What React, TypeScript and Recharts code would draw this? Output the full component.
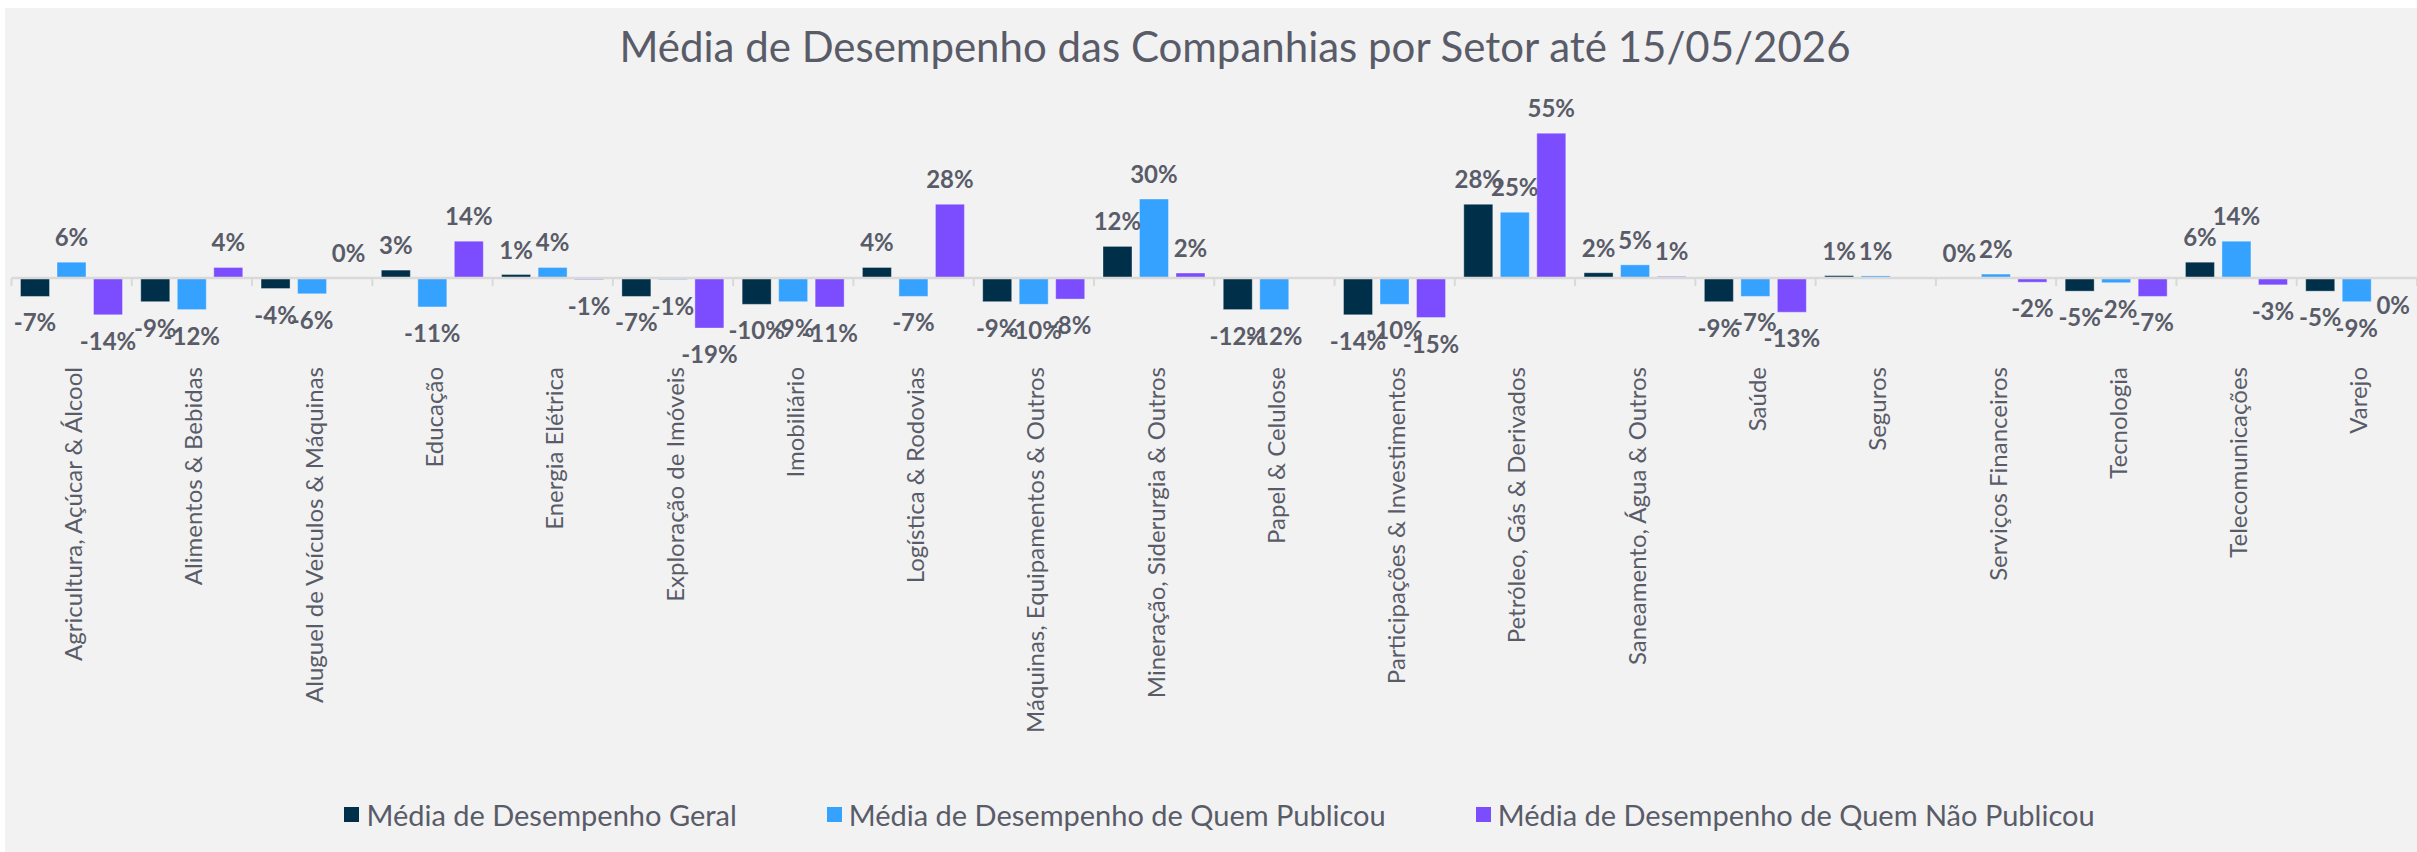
import React from "react";
import { BarChart, Bar, XAxis, YAxis, ReferenceLine, Legend, LabelList } from "recharts";

const categories = [
  "Agricultura, Açúcar & Álcool",
  "Alimentos & Bebidas",
  "Aluguel de Veículos & Máquinas",
  "Educação",
  "Energia Elétrica",
  "Exploração de Imóveis",
  "Imobiliário",
  "Logística & Rodovias",
  "Máquinas, Equipamentos & Outros",
  "Mineração, Siderurgia & Outros",
  "Papel & Celulose",
  "Participações & Investimentos",
  "Petróleo, Gás & Derivados",
  "Saneamento, Água & Outros",
  "Saúde",
  "Seguros",
  "Serviços Financeiros",
  "Tecnologia",
  "Telecomunicações",
  "Varejo",
];

// médias em %
const geral = [-7, -9, -4, 3, 1.3, -7, -10, 4, -9, 12, -12, -14, 28, 2, -9, 0.9, 0.1, -5, 6, -5];
const publicou = [6, -12, -6, -11, 4, -0.6, -9, -7, -10, 30, -12, -10, 25, 5, -7, 0.8, 1.5, -1.8, 14, -9];
const naoPublicou = [-14, 4, 0.1, 14, -0.6, -19, -11, 28, -8, 1.9, null, -15, 55, 0.6, -13, null, -1.6, -7, -2.6, -0.2];

const seriesNames = [
  "Média de Desempenho Geral",
  "Média de Desempenho de Quem Publicou",
  "Média de Desempenho de Quem Não Publicou",
];
const seriesColors = ["#003049", "#36a2ff", "#7c4dff"];

const yDomain = [-30, 60];

const textColor = "#595c68";
const font = "Lato, 'Noto Sans', sans-serif";

const data = categories.map((setor, i) => ({
  setor,
  geral: geral[i],
  publicou: publicou[i],
  naoPublicou: naoPublicou[i],
}));

const fmt = (v: number) => `${Math.round(v)}%`;

const ValueLabel = (props: any) => {
  const { value } = props;
  if (value === null || value === undefined) return null;
  const vb = props.viewBox ?? props;
  const { x, y, width, height } = vb;
  const top = Math.min(y, y + height);
  const bottom = Math.max(y, y + height);
  const ly = value >= 0 ? top - 16 : bottom + 35;
  return (
    <text x={x + width / 2} y={ly} textAnchor="middle" fill={textColor} fontSize={24} fontWeight={700} fontFamily={font}>
      {fmt(value)}
    </text>
  );
};

const CategoryTick = (props: any) => {
  const { x, y, payload } = props;
  return (
    <text
      x={x + 1}
      y={y}
      transform={`rotate(-90 ${x + 1} ${y})`}
      textAnchor="end"
      dominantBaseline="central"
      fill={textColor}
      fontSize={24}
      fontFamily={font}
    >
      {payload.value}
    </text>
  );
};

// linha do zero com marcas entre categorias (estilo Excel)
const ZeroLine = (props: any) => {
  const { x1, y1, x2 } = props;
  const n = categories.length;
  const step = (x2 - x1) / n;
  return (
    <g>
      <line x1={x1} y1={y1} x2={x2} y2={y1} stroke="#d9d9d9" strokeWidth={2.5} />
      {Array.from({ length: n + 1 }, (_, i) => (
        <line key={i} x1={x1 + i * step} x2={x1 + i * step} y1={y1} y2={y1 + 8} stroke="#d9d9d9" strokeWidth={2} />
      ))}
    </g>
  );
};

const LegendContent = (props: any) => {
  const items = [...(props.payload || [])].sort(
    (a: any, b: any) => seriesNames.indexOf(a.value) - seriesNames.indexOf(b.value)
  );
  return (
    <div
      style={{
        display: "flex",
        justifyContent: "center",
        alignItems: "center",
        height: 40,
        paddingLeft: 17,
        fontFamily: font,
        fontSize: 29,
        color: textColor,
        whiteSpace: "nowrap",
      }}
    >
      {items.map((p: any, i: number) => (
        <div key={i} style={{ display: "flex", alignItems: "center", marginLeft: i ? 90 : 0 }}>
          <span style={{ display: "inline-block", width: 15, height: 15, background: p.color, marginRight: 7 }} />
          <span>{p.value}</span>
        </div>
      ))}
    </div>
  );
};

export default function App() {
  return (
    <div style={{ paddingTop: 8, paddingLeft: 5 }}>
      <style>{"body{margin:0;overflow:hidden}"}</style>
      <div style={{ position: "relative", width: 2412, height: 844, background: "#f2f2f2" }}>
        <div
          style={{
            position: "absolute",
            left: 0,
            top: 16.75,
            width: 2460,
            textAlign: "center",
            fontFamily: font,
            fontSize: 42,
            lineHeight: "42px",
            color: textColor,
            whiteSpace: "nowrap",
          }}
        >
          Média de Desempenho das Companhias por Setor até 15/05/2026
        </div>
        <BarChart
          width={2412}
          height={844}
          data={data}
          margin={{ top: 112, right: 0, left: 6.5, bottom: 125 }}
          barCategoryGap={9}
          barGap={7.5}
        >
          <XAxis
            dataKey="setor"
            height={330}
            interval={0}
            axisLine={false}
            tickLine={false}
            tickSize={0}
            tickMargin={10}
            tick={<CategoryTick />}
          />
          <YAxis hide domain={yDomain} />
          <Legend
            verticalAlign="bottom"
            height={40}
            content={<LegendContent />}
            wrapperStyle={{ left: 0, width: 2412, bottom: 18 }}
          />
          <Bar dataKey="geral" name={seriesNames[0]} fill={seriesColors[0]} stroke="rgba(255,255,255,0.35)" isAnimationActive={false}>
            <LabelList dataKey="geral" content={<ValueLabel />} />
          </Bar>
          <Bar dataKey="publicou" name={seriesNames[1]} fill={seriesColors[1]} stroke="rgba(255,255,255,0.35)" isAnimationActive={false}>
            <LabelList dataKey="publicou" content={<ValueLabel />} />
          </Bar>
          <Bar dataKey="naoPublicou" name={seriesNames[2]} fill={seriesColors[2]} stroke="rgba(255,255,255,0.35)" isAnimationActive={false}>
            <LabelList dataKey="naoPublicou" content={<ValueLabel />} />
          </Bar>
          <ReferenceLine y={0} shape={<ZeroLine />} />
        </BarChart>
      </div>
    </div>
  );
}
